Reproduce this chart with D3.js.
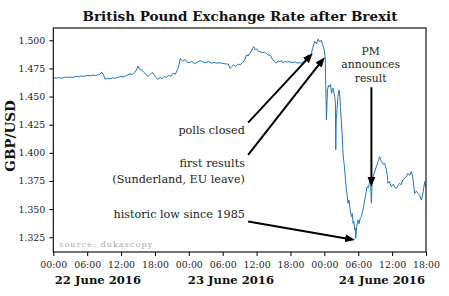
<!DOCTYPE html>
<html>
<head>
<meta charset="utf-8">
<script src="https://cdn.jsdelivr.net/npm/d3@7"></script>
<style>
  html, body { margin: 0; padding: 0; background: #fff; }
  svg { display: block; }
  text { font-family: "DejaVu Serif", "Liberation Serif", serif; }
</style>
</head>
<body>
<svg id="chart" width="449" height="296"></svg>
<script>
// ---------------- data ----------------
// hours since 22 June 2016 00:00
const hours = [
  0.0,0.5,1.0,1.5,2.0,2.5,3.0,3.5,4.0,4.5,5.0,5.5,6.0,6.5,7.0,7.5,8.0,8.3,8.6,8.9,
  9.2,9.6,10.0,10.5,11.0,11.5,12.0,12.5,13.0,13.6,14.0,14.4,14.8,15.0,15.3,15.6,16.0,16.4,16.7,17.0,
  17.3,17.6,17.9,18.2,18.5,18.9,19.3,19.7,20.0,20.4,20.8,21.2,21.6,22.0,22.3,22.5,22.8,23.0,23.3,23.6,
  24.0,24.5,25.0,25.5,26.0,26.5,27.0,27.5,28.0,28.5,29.0,29.5,30.0,30.5,31.0,31.3,31.6,31.9,32.3,32.7,
  33.1,33.5,33.9,34.2,34.5,34.8,35.1,35.5,35.8,36.0,36.3,36.6,37.0,37.4,37.8,38.0,38.4,38.9,39.2,39.5,
  39.8,40.1,40.4,40.7,41.0,41.4,41.9,42.3,42.8,43.2,43.6,43.95,44.3,44.55,44.85,45.1,45.4,45.7,46.0,46.3,
  46.6,46.9,47.2,47.45,47.7,47.95,48.15,48.25,48.37,48.55,48.75,48.95,49.1,49.26,49.4,49.54,49.7,49.84,49.95,50.02,
  50.1,50.25,50.4,50.6,50.75,50.85,51.03,51.2,51.31,51.45,51.61,51.75,51.91,52.05,52.19,52.35,52.5,52.65,52.8,52.95,
  53.08,53.22,53.38,53.47,53.56,53.7,53.85,53.96,54.15,54.35,54.56,54.75,54.95,55.15,55.35,55.56,55.8,56.03,56.2,56.33,
  56.45,56.62,56.9,57.22,57.5,57.8,57.95,58.1,58.4,58.69,58.99,59.15,59.27,59.5,59.87,60.2,60.5,60.76,61.05,61.34,
  61.6,61.9,62.23,62.5,62.81,63.1,63.41,63.69,63.85,63.99,64.3,64.58,64.9,65.18,65.46,65.76,65.94
];
const rates = [
  1.4668,1.4664,1.4667,1.4663,1.4672,1.4669,1.4674,1.4670,1.4680,1.4676,1.4683,1.4679,1.4688,1.4684,1.4690,1.4686,1.4695,1.4700,1.4716,1.4690,
  1.4654,1.4663,1.4658,1.4667,1.4662,1.4672,1.4678,1.4674,1.4688,1.4700,1.4696,1.4712,1.4745,1.4772,1.4742,1.4738,1.4716,1.4700,1.4677,1.4690,
  1.4705,1.4712,1.4690,1.4670,1.4654,1.4668,1.4660,1.4676,1.4672,1.4686,1.4680,1.4707,1.4698,1.4740,1.4790,1.4840,1.4818,1.4815,1.4830,1.4808,
  1.4800,1.4812,1.4792,1.4805,1.4819,1.4806,1.4800,1.4810,1.4798,1.4802,1.4797,1.4800,1.4795,1.4790,1.4788,1.4751,1.4765,1.4780,1.4770,1.4790,
  1.4780,1.4800,1.4825,1.4870,1.4860,1.4884,1.4905,1.4943,1.4915,1.4925,1.4900,1.4899,1.4890,1.4895,1.4880,1.4870,1.4868,1.4825,1.4810,1.4796,
  1.4815,1.4810,1.4820,1.4798,1.4812,1.4806,1.4810,1.4800,1.4808,1.4798,1.4800,1.4796,1.4812,1.4825,1.4855,1.4870,1.4860,1.4884,1.4940,1.4990,
  1.4970,1.5010,1.4985,1.5000,1.4960,1.4920,1.4854,1.4588,1.4292,1.4558,1.4600,1.4588,1.4610,1.4529,1.4560,1.4574,1.4530,1.4499,1.4450,1.4026,
  1.4300,1.4381,1.4500,1.4558,1.4500,1.4410,1.4263,1.4114,1.3996,1.3920,1.3848,1.3760,1.3670,1.3620,1.3552,1.3580,1.3520,1.3470,1.3433,1.3460,
  1.3374,1.3390,1.3315,1.3330,1.3241,1.3330,1.3380,1.3404,1.3370,1.3420,1.3433,1.3480,1.3520,1.3580,1.3640,1.3700,1.3690,1.3744,1.3720,1.3552,
  1.3740,1.3788,1.3830,1.3877,1.3920,1.3966,1.3940,1.3922,1.3900,1.3907,1.3848,1.3800,1.3730,1.3745,1.3700,1.3720,1.3695,1.3685,1.3710,1.3730,
  1.3715,1.3760,1.3774,1.3790,1.3818,1.3800,1.3833,1.3774,1.3700,1.3640,1.3660,1.3640,1.3620,1.3581,1.3640,1.3744,1.3700
];
const yTicks = [1.325, 1.350, 1.375, 1.400, 1.425, 1.450, 1.475, 1.500];
const dayLabels = ["22 June 2016", "23 June 2016", "24 June 2016"];
const titleText = "British Pound Exchange Rate after Brexit";
const yLabelText = "GBP/USD";
const sourceText = "source: dukascopy";

// annotations: text lines, text anchor point (hours, rate), arrow start, arrow tip
const annTexts = [["polls closed"], ["first results", "(Sunderland, EU leave)"], ["historic low since 1985"], ["PM", "announces", "result"]];
const annTextPos = [[33.93, 1.4197], [33.93, 1.3901], [33.93, 1.3448], [56.2, 1.4899]];
const annArrowFrom = [[34.5, 1.4268], [34.5, 1.3981], [34.5, 1.3389], [56.33, 1.4582]];
const annArrowTo = [[45.95, 1.4885], [48.07, 1.4849], [53.43, 1.3226], [56.33, 1.3699]];

// ---------------- chart ----------------
const t0 = Date.UTC(2016, 5, 22, 0, 0);
const toDate = h => new Date(t0 + h * 3600 * 1000);

const svg = d3.select("#chart");
const L = 53.3, R = 426, T = 28, B = 252;

const x = d3.scaleUtc().domain([toDate(0), toDate(66)]).range([L, R]);
const y = d3.scaleLinear().domain([1.3119, 1.5109]).range([B, T]);

// line
const line = d3.line().x((d, i) => x(toDate(hours[i]))).y(d => y(d));
svg.append("path")
  .datum(rates)
  .attr("d", line)
  .attr("fill", "none")
  .attr("stroke", "#1f77b4")
  .attr("stroke-width", 1)
  .attr("stroke-linejoin", "round");

// axes
const xAxis = d3.axisBottom(x)
  .ticks(d3.utcHour.every(6))
  .tickFormat(d3.utcFormat("%H:%M"))
  .tickSize(4).tickPadding(5);
const gx = svg.append("g").attr("transform", `translate(0,${B})`).call(xAxis);
gx.select(".domain").remove();
gx.selectAll("line").attr("stroke", "#000").attr("stroke-width", 1);
gx.selectAll("text").attr("font-family", "DejaVu Serif").attr("font-size", 9.4).attr("fill", "#222");

const yAxis = d3.axisLeft(y).tickValues(yTicks).tickFormat(d3.format(".3f")).tickSize(4).tickPadding(4);
const gy = svg.append("g").attr("transform", `translate(${L},0)`).call(yAxis);
gy.select(".domain").remove();
gy.selectAll("line").attr("stroke", "#000").attr("stroke-width", 1);
gy.selectAll("text").attr("font-family", "DejaVu Serif").attr("font-size", 9.4).attr("fill", "#222");

// frame
svg.append("rect")
  .attr("x", L).attr("y", T).attr("width", R - L).attr("height", B - T)
  .attr("fill", "none").attr("stroke", "#000").attr("stroke-width", 1.1);

// day labels
const dayAnchor = [[toDate(0), "start"], [toDate(24), "start"], [toDate(66), "end"]];
svg.selectAll("text.day").data(dayLabels).join("text")
  .attr("class", "day")
  .attr("x", (d, i) => x(dayAnchor[i][0]) + (i === 0 ? 1.5 : -1))
  .attr("y", 280)
  .attr("dominant-baseline", "central")
  .attr("text-anchor", (d, i) => dayAnchor[i][1])
  .attr("font-weight", "bold")
  .attr("font-size", 11.6)
  .attr("fill", "#111")
  .text(d => d);

// title
svg.append("text")
  .attr("x", 240).attr("y", 15.5)
  .attr("text-anchor", "middle").attr("dominant-baseline", "central")
  .attr("font-weight", "bold").attr("font-size", 13.5).attr("fill", "#111")
  .text(titleText);

// y label
svg.append("text")
  .attr("transform", `translate(10,136) rotate(-90)`)
  .attr("text-anchor", "middle").attr("dominant-baseline", "central")
  .attr("font-weight", "bold").attr("font-size", 13.5).attr("fill", "#111")
  .text(yLabelText);

// source
svg.append("text")
  .attr("x", L + 6).attr("y", 244)
  .attr("dominant-baseline", "central")
  .attr("font-size", 8).attr("letter-spacing", 1.1).attr("fill", "#aaa")
  .text(sourceText);

// arrowhead marker
svg.append("defs").append("marker")
  .attr("id", "ah")
  .attr("markerUnits", "userSpaceOnUse")
  .attr("viewBox", "0 0 10 8")
  .attr("refX", 10).attr("refY", 4)
  .attr("markerWidth", 10).attr("markerHeight", 8)
  .attr("orient", "auto")
  .append("path").attr("d", "M0,0 L10,4 L0,8 Z").attr("fill", "#000");

// annotations
annTexts.forEach((lines, k) => {
  const isPM = k === 3;
  const tx = x(toDate(annTextPos[k][0]));
  const ty = y(annTextPos[k][1]);
  const lh = isPM ? 13.3 : 16;
  const g = svg.append("text")
    .attr("text-anchor", isPM ? "middle" : "end")
    .attr("font-size", isPM ? 10.8 : 11.2)
    .attr("fill", "#222");
  lines.forEach((s, j) => {
    g.append("tspan").attr("x", tx).attr("y", ty + j * lh).attr("dominant-baseline", "central").text(s);
  });
  const x1 = x(toDate(annArrowFrom[k][0])), y1 = y(annArrowFrom[k][1]);
  const x2 = x(toDate(annArrowTo[k][0])), y2 = y(annArrowTo[k][1]);
  const len = Math.hypot(x2 - x1, y2 - y1);
  const ux = (x2 - x1) / len, uy = (y2 - y1) / len;
  svg.append("line")
    .attr("x1", x1).attr("y1", y1)
    .attr("x2", x2 - ux * 6).attr("y2", y2 - uy * 6)
    .attr("stroke", "#000").attr("stroke-width", 2);
  svg.append("line")
    .attr("x1", x2 - ux * 7).attr("y1", y2 - uy * 7)
    .attr("x2", x2).attr("y2", y2)
    .attr("stroke", "none")
    .attr("marker-end", "url(#ah)");
});
</script>
</body>
</html>
